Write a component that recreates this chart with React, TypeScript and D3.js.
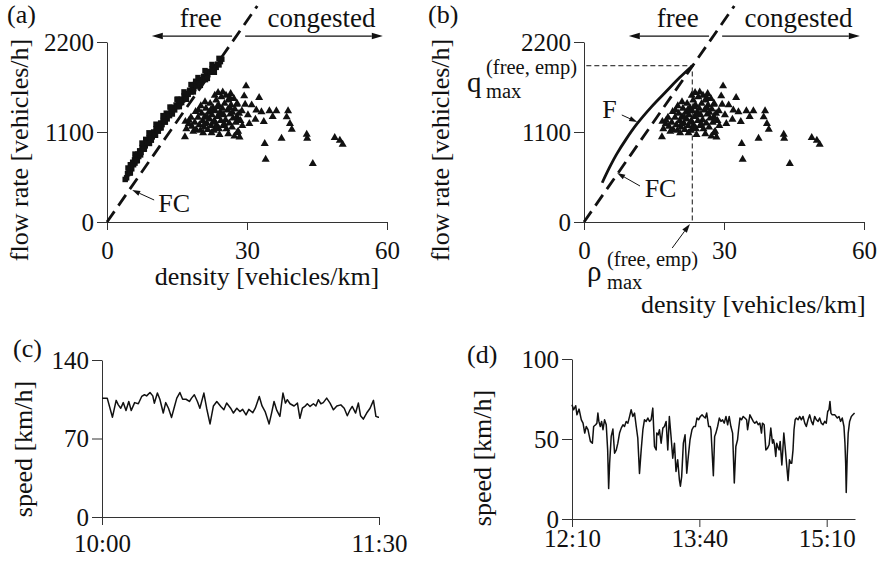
import React, { useEffect, useRef } from 'react'
import * as d3 from 'd3'

const W = 886
const H = 566
const FONT = "'Liberation Serif', 'Times New Roman', serif"
const INK = '#111'
const AXIS = '#333'

// (a) free-flow measurements: [density veh/km, flow veh/h]
const freeObs = [
  [3.9, 520], [4.2, 540], [4.4, 590], [4.7, 620], [4.9, 600], [5.0, 700], [5.1, 680], [5.3, 650],
  [5.5, 730], [5.7, 700], [5.9, 760], [6.0, 720], [6.1, 790], [6.3, 750], [6.6, 830], [6.8, 800],
  [7.0, 870], [7.2, 820], [7.3, 850], [7.5, 910], [7.8, 890], [8.0, 950], [8.2, 930], [8.3, 1010],
  [8.5, 990], [8.7, 970], [9.0, 1030], [9.1, 960], [9.2, 1010], [9.5, 1070], [9.7, 1040], [10.0, 1100],
  [10.2, 1080], [10.4, 1060], [10.5, 1140], [10.8, 1120], [11.0, 1170], [11.3, 1150], [11.5, 1210],
  [11.6, 1150], [11.8, 1190], [12.0, 1240], [12.3, 1230], [12.6, 1280], [12.7, 1330], [12.9, 1260],
  [13.1, 1320], [13.4, 1300], [13.7, 1360], [13.9, 1400], [14.0, 1350], [14.2, 1390], [14.5, 1370],
  [14.8, 1430], [15.0, 1410], [15.2, 1500], [15.3, 1470], [15.6, 1450], [15.9, 1500], [16.0, 1460],
  [16.2, 1490], [16.5, 1540], [16.8, 1520], [17.0, 1510], [17.1, 1570], [17.4, 1560], [17.7, 1610],
  [18.0, 1590], [18.3, 1640], [18.6, 1630], [18.9, 1680], [19.0, 1720], [19.2, 1660], [19.5, 1710],
  [19.8, 1700], [20.1, 1740], [20.4, 1730], [20.7, 1780], [21.0, 1770], [21.1, 1740], [21.3, 1810],
  [21.6, 1800], [21.9, 1840], [22.2, 1830], [22.5, 1870], [22.8, 1860], [23.1, 1900], [23.4, 1890],
  [23.7, 1930], [24.0, 1920], [24.3, 1960], [24.6, 1990],
  [4.5, 660], [6.0, 830], [7.5, 965], [9.0, 1090], [10.5, 1195], [12.0, 1300], [13.5, 1405],
  [15.0, 1500], [16.5, 1590], [18.0, 1680], [19.5, 1765], [21.0, 1850], [22.5, 1925], [24.0, 2000],
  [5.0, 600], [6.5, 750], [8.0, 890], [9.5, 1000], [11.0, 1110], [12.5, 1220], [14.0, 1320],
  [15.5, 1410], [17.0, 1500], [18.5, 1590], [20.0, 1670], [21.5, 1755], [23.0, 1830]
]

// (a),(b) congested measurements
const congObs = [
  [17.0, 1150], [17.5, 1210], [16.8, 1240], [18.0, 1290], [18.2, 1180], [18.5, 1120], [18.8, 1230],
  [19.1, 1140], [19.0, 1360], [19.5, 1290], [19.8, 1200], [20.0, 1130], [20.1, 1430], [20.3, 1340],
  [20.5, 1250], [20.6, 1100], [20.8, 1170], [21.0, 1300], [21.0, 1480], [21.2, 1400], [21.4, 1220],
  [21.6, 1140], [21.8, 1350], [22.0, 1270], [22.1, 1460], [22.3, 1190], [22.4, 1100], [22.5, 1320],
  [22.7, 1410], [22.9, 1130], [23.0, 1250], [23.1, 1560], [23.2, 1370], [23.4, 1500], [23.5, 1200],
  [23.7, 1300], [23.9, 1440], [24.0, 1150], [24.1, 1080], [24.2, 1350], [24.4, 1250], [24.5, 1540],
  [24.7, 1400], [24.8, 1600], [24.9, 1190], [25.0, 1320], [25.2, 1460], [25.4, 1260], [25.6, 1150],
  [25.8, 1380], [26.0, 1500], [26.0, 1090], [26.2, 1220], [26.4, 1330], [26.5, 1580], [26.6, 1440],
  [26.8, 1170], [27.0, 1280], [27.2, 1520], [27.3, 1060], [27.4, 1390], [27.6, 1230], [27.9, 1460],
  [28.1, 1120], [28.3, 1340], [28.4, 1050], [28.6, 1250], [21.5, 1290], [22.8, 1230], [23.6, 1420],
  [24.6, 1330], [25.5, 1560], [26.9, 1350], [19.6, 1380], [20.9, 1210], [22.2, 1380], [23.3, 1160],
  [25.1, 1210], [26.3, 1410], [27.8, 1300],
  [16.7, 1051], [17.6, 1255], [29.8, 1674], [29.4, 1552], [32.6, 1532], [29.6, 1450], [31.0, 1442],
  [33.1, 1357], [34.8, 1369], [36.3, 1369], [38.8, 1369], [38.5, 1295], [33.6, 1238], [31.8, 1267],
  [30.5, 1214], [39.2, 1214], [39.6, 1145], [37.4, 1035], [33.8, 970], [42.8, 1084], [42.9, 1035],
  [48.8, 1043], [49.9, 1010], [50.5, 961], [34.0, 778], [44.1, 725], [27.9, 1104], [28.1, 1267],
  [28.9, 1369], [27.8, 1450], [26.3, 1532], [23.8, 1593], [29.0, 1190], [30.2, 1320], [32.0, 1380],
  [35.5, 1300]
]

// FC: straight line through origin
const fcDensity = [0, 32.2]
const fcFlow = [0, 2640]

// F: fitted free-flow curve in (b)
const fitDensity = [3.9, 5.5, 7.0, 9.0, 11.3, 14.5, 17.7, 20.5, 23.4]
const fitFlow = [480, 670, 830, 1010, 1195, 1410, 1600, 1765, 1919]

const qMax = 1910
const rhoMax = 23.2

const densityTicks = [0, 30, 60]
const flowTicks = [0, 1100, 2200]

// (c) speed time series, minutes after 10:00
const speedC = [
  [0, 106], [1.7, 106], [3.4, 89], [4.6, 104], [5.3, 100], [6.1, 97], [6.9, 102], [7.8, 95], [8.7, 103],
  [9.5, 95], [10.6, 102], [11.8, 101], [12.9, 107.5], [13.8, 109], [14.5, 108], [15.6, 111], [16.5, 108],
  [17.0, 101.5], [18.0, 110.5], [18.8, 105], [19.9, 92.7], [20.7, 102], [21.6, 97], [22.6, 88.8],
  [23.4, 97], [24.3, 106], [25.3, 111], [26.2, 105], [27.3, 105], [28.4, 103], [29.1, 106], [30.0, 109],
  [31.0, 103], [31.8, 97], [33.1, 110.5], [34.0, 97], [35.1, 83], [36.2, 99], [37.3, 103], [38.6, 98.6],
  [39.6, 95.6], [40.5, 101.6], [41.8, 97], [42.7, 92.7], [43.8, 97], [44.8, 94], [45.7, 96], [46.8, 91],
  [47.7, 96], [49.0, 93], [49.8, 97], [51.1, 107.5], [52.0, 99], [53.0, 94], [54.3, 83], [55.1, 92.7],
  [55.9, 103], [56.8, 95], [57.8, 89.7], [58.8, 110.5], [59.6, 101.6], [60.2, 104.6], [61.1, 101],
  [62.4, 99], [63.5, 101.6], [64.3, 88], [65.1, 97], [65.9, 98.6], [66.7, 101], [67.6, 98.6], [68.7, 101],
  [69.5, 99], [70.3, 104.6], [71.1, 101], [71.9, 102], [73.0, 106], [74.1, 101.6], [75.2, 95.6],
  [76.3, 99], [77.6, 100], [78.7, 97], [79.7, 90.3], [80.6, 95.6], [81.3, 98.6], [82.4, 92.7],
  [83.3, 101.6], [84.0, 90.3], [84.9, 87.3], [86.0, 92.7], [87.1, 97], [88.2, 104], [89.0, 89.7],
  [89.8, 89], [90, 89]
]
const cTicks = [0, 90]
const cTickLabels = ['10:00', '11:30']
const cSpeedTicks = [0, 70, 140]

// (d) speed time series, minutes after 12:10
const speedD = [
  [0, 71.4], [1.2, 68.3], [2.6, 70.8], [3.5, 65.1], [5.0, 68.7], [6.6, 62], [7.8, 59.9], [9.0, 53.7],
  [10.1, 57.8], [11.3, 55.8], [13.0, 48.5], [14.4, 47.4], [15.3, 57.8], [16.7, 58.9], [17.6, 59.9],
  [18.3, 66.2], [19.0, 61], [20.0, 57.8], [20.9, 61], [21.9, 55.8], [23.0, 62], [24.2, 58.9], [25.2, 43.2],
  [25.9, 19], [26.6, 34.9], [27.7, 51.6], [28.9, 56.2], [30.1, 41.1], [31.3, 43.2], [32.4, 47.4],
  [33.6, 53.7], [34.8, 56.8], [36.0, 58.9], [37.1, 57.8], [38.3, 61], [39.5, 59.9], [40.7, 64.1],
  [41.8, 68.3], [43.0, 64.1], [44.2, 66.2], [45.4, 57.8], [46.5, 50.5], [47.7, 28.5], [48.9, 43.2],
  [50.1, 55.8], [51.2, 62], [52.4, 61], [53.6, 63.1], [54.8, 61], [55.9, 62], [57.1, 69.3], [58.3, 45.3],
  [59.5, 43.2], [59.9, 53.7], [60.9, 52.6], [61.8, 55.8], [63.0, 47.4], [64.2, 56.8], [65.3, 57.8],
  [66.5, 61], [67.7, 43.2], [68.8, 64.1], [70.0, 51.6], [71.2, 38], [72.4, 47.4], [73.5, 29.7],
  [74.7, 37], [75.9, 24.5], [76.6, 20.5], [77.5, 26.5], [78.7, 47.4], [79.9, 52.6], [81.1, 28.6],
  [82.2, 39.1], [83.4, 49.5], [84.8, 55.8], [86.0, 57.8], [87.2, 57.8], [88.3, 63.1], [89.5, 62],
  [90.7, 64.1], [91.9, 65.1], [93.0, 64.1], [94.2, 63.1], [95.2, 66.2], [96.6, 57.8], [97.7, 57.8],
  [98.2, 55.8], [99.9, 27], [100.8, 51.6], [101.7, 53.7], [102.9, 57.8], [104.1, 63.1], [105.3, 61],
  [106.4, 62], [107.6, 59.9], [108.8, 64.1], [110.0, 58.9], [111.1, 64.1], [112.3, 57.8], [113.5, 53.7],
  [114.7, 22.5], [115.8, 45.3], [117.0, 49.5], [117.7, 55.8], [118.7, 63.1], [119.8, 62], [121.0, 64.1],
  [122.2, 63.1], [123.4, 62], [124.1, 55.8], [124.8, 59.9], [125.7, 65.1], [126.9, 63.1], [128.1, 61],
  [129.2, 59.9], [130.4, 61], [131.6, 58.9], [132.8, 59.9], [133.9, 53.7], [134.6, 59.9], [135.8, 58.9],
  [137.0, 43.2], [138.2, 44.3], [139.3, 46.4], [140.5, 56.8], [141.7, 47.4], [142.4, 49.5], [143.1, 46.4],
  [144.0, 39.1], [144.7, 47.4], [145.4, 45.3], [146.4, 43.2], [147.1, 48.5], [148.3, 33.8], [149.0, 43.2],
  [149.7, 53.7], [150.6, 45.3], [151.8, 32.8], [152.7, 24], [153.7, 37], [154.6, 34.9], [155.3, 34.9],
  [156.2, 43.2], [156.9, 55.8], [157.7, 62], [158.6, 63.1], [159.8, 62], [160.9, 64.1], [162.1, 62],
  [163.3, 64.1], [164.5, 59.9], [165.6, 57.8], [166.8, 62], [168.0, 65.1], [169.2, 61], [170.3, 58.9],
  [171.5, 64.1], [172.7, 62], [173.9, 61], [175.0, 63.1], [176.2, 59.9], [177.4, 58.9], [178.6, 61],
  [179.7, 59.9], [180.7, 67.2], [181.6, 68.3], [182.3, 73.5], [183.0, 66.2], [183.9, 65.1], [185.8, 65.1],
  [187.5, 63.1], [188.7, 64.1], [189.8, 61], [191.0, 63.1], [192.2, 57.8], [192.9, 47.4], [193.4, 34.9],
  [193.8, 16.5], [194.5, 39.1], [195.2, 53.7], [196.2, 61], [197.4, 64.1], [198.5, 65.1], [199.7, 66.2]
]
const dTicks = [0, 90, 180]
const dTickLabels = ['12:10', '13:40', '15:10']
const dSpeedTicks = [0, 50, 100]

type Sel = d3.Selection<SVGGElement, unknown, null, undefined>

function text (g: Sel, x: number, y: number, s: string, size: number, anchor = 'start') {
  return g.append('text')
    .attr('x', x).attr('y', y)
    .attr('font-size', size)
    .attr('text-anchor', anchor)
    .attr('fill', INK)
    .text(s)
}

function arrow (g: Sel, x1: number, y1: number, x2: number, y2: number, w: number, len: number, half: number) {
  const a = Math.atan2(y2 - y1, x2 - x1)
  const bx = x2 - len * Math.cos(a)
  const by = y2 - len * Math.sin(a)
  g.append('line')
    .attr('x1', x1).attr('y1', y1).attr('x2', bx).attr('y2', by)
    .attr('stroke', INK).attr('stroke-width', w)
  const px = -Math.sin(a) * half
  const py = Math.cos(a) * half
  g.append('path')
    .attr('d', `M${x2},${y2}L${bx + px},${by + py}L${bx - px},${by - py}Z`)
    .attr('fill', INK)
}

function axes (g: Sel, x: any, y: any, xTicks: number[], xLabels: string[] | null, yTicks: number[], xBase: number) {
  const ya = g.append('g')
    .attr('transform', `translate(${x.range()[0]},0)`)
    .call(d3.axisLeft(y).tickValues(yTicks).tickSize(10).tickSizeOuter(0).tickPadding(3)
      .tickFormat((d: any) => String(d)))
  const xa = g.append('g')
    .attr('transform', `translate(0,${y.range()[0]})`)
    .call(d3.axisBottom(x).tickValues(xTicks).tickSize(8).tickSizeOuter(0)
      .tickFormat((d: any, i: number) => xLabels ? xLabels[i] : String(d)))
  for (const a of [ya, xa]) {
    a.attr('font-size', 25).attr('font-family', FONT).attr('color', AXIS)
    a.selectAll('text').attr('fill', INK)
  }
  xa.selectAll('text').attr('dy', null).attr('y', xBase)
}

function flowPanel (svg: Sel, x0: number, withFit: boolean) {
  const g = svg.append('g')
  const x = d3.scaleLinear().domain([0, 60]).range([x0, x0 + 280])
  const y = d3.scaleLinear().domain([0, 2200]).range([222, 42])

  axes(g, x, y, densityTicks, null, flowTicks, 37)

  const sq = d3.symbol(d3.symbolSquare, 30)
  const tri = d3.symbol(d3.symbolTriangle, 28)

  if (!withFit) {
    g.append('g').selectAll('path')
      .data(freeObs)
      .enter().append('path')
      .attr('d', sq)
      .attr('transform', d => `translate(${x(d[0])},${y(d[1])})`)
      .attr('fill', INK)
  }

  g.append('g').selectAll('path')
    .data(congObs)
    .enter().append('path')
    .attr('d', tri)
    .attr('transform', d => `translate(${x(d[0])},${y(d[1]) + 1})`)
    .attr('fill', INK)

  // FC dashed line
  g.append('path')
    .attr('d', d3.line<number>().x(d => x(d)).y((d, i) => y(fcFlow[i]))(fcDensity))
    .attr('fill', 'none').attr('stroke', INK)
    .attr('stroke-width', 2.8).attr('stroke-dasharray', '13,7')

  // free / congested arrows
  const ay = y(2273)
  arrow(g, x(26.8), ay, x(9.6), ay, 1.3, 11, 3.2)
  arrow(g, x(29.6), ay, x(59.1), ay, 1.3, 11, 3.2)
  text(g, x(20.1), 27, 'free', 27, 'middle')
  text(g, x(34.4), 27, 'congested', 27)

  if (!withFit) {
    text(g, x(11.0), 212, 'FC', 26)
    arrow(g, x(10.1), y(269), x(5.4), y(391), 1, 8, 2.6)
  } else {
    // empirical maxima guide lines
    g.append('path')
      .attr('d', `M${x(0.5)},${y(qMax)}H${x(rhoMax)}`)
      .attr('stroke', INK).attr('stroke-width', 1).attr('stroke-dasharray', '5,3')
    g.append('path')
      .attr('d', `M${x(rhoMax)},${y(1840)}V${y(0)}`)
      .attr('stroke', INK).attr('stroke-width', 1).attr('stroke-dasharray', '5,3')

    g.append('path')
      .attr('d', d3.line<number>().x(d => x(d)).y((d, i) => y(fitFlow[i])).curve(d3.curveCatmullRom)(fitDensity))
      .attr('fill', 'none').attr('stroke', INK).attr('stroke-width', 2.8)
      .attr('stroke-linejoin', 'round')

    text(g, x(3.9), y(1271), 'F', 26)
    arrow(g, x(8.1), y(1308), x(11.4), y(1222), 1, 8, 2.6)
    text(g, x(13.0), y(306), 'FC', 26)
    arrow(g, x(12.0), y(440), x(7.1), y(599), 1, 8, 2.6)

    text(g, 467, 92, 'q', 29)
    text(g, 486, 74, '(free, emp)', 20.5)
    text(g, 486, 98, 'max', 20.5)
    text(g, 587, 281, 'ρ', 29)
    text(g, 607, 266, '(free, emp)', 20.5)
    text(g, 607, 289, 'max', 20.5)
    arrow(g, x(18.9), y(-318), x(22.7), y(-24), 1, 9, 2.8)
  }
}

function speedPanel (svg: Sel, data: number[][], xDomain: number[], xRange: number[], yMax: number, yRange: number[], xTicks: number[], xLabels: string[], yTicks: number[], xBase: number) {
  const g = svg.append('g')
  const x = d3.scaleLinear().domain(xDomain).range(xRange)
  const y = d3.scaleLinear().domain([0, yMax]).range(yRange)
  axes(g, x, y, xTicks, xLabels, yTicks, xBase)
  g.append('path')
    .attr('d', d3.line<number[]>().x(d => x(d[0])).y(d => y(d[1]))(data))
    .attr('fill', 'none').attr('stroke', INK).attr('stroke-width', 1.5)
    .attr('stroke-linejoin', 'round')
}

function App () {
  const ref = useRef<SVGSVGElement>(null)

  useEffect(() => {
    const root = d3.select(ref.current)
    root.selectAll('*').remove()
    const svg = root.append('g').attr('font-family', FONT) as unknown as Sel

    flowPanel(svg, 107, false)
    flowPanel(svg, 584, true)

    speedPanel(svg, speedC, [0, 90], [102, 379], 140, [517, 360], cTicks, cTickLabels, cSpeedTicks, 35)
    speedPanel(svg, speedD, [0, 200], [572, 855], 100, [519, 359], dTicks, dTickLabels, dSpeedTicks, 28)

    // panel letters
    text(svg, 7, 23, '(a)', 26)
    text(svg, 428, 23, '(b)', 26)
    text(svg, 13, 357, '(c)', 26)
    text(svg, 467, 363, '(d)', 26)

    // axis titles
    text(svg, 267, 285, 'density [vehicles/km]', 26, 'middle')
    text(svg, 641, 313, 'density [vehicles/km]', 26)
    const yt = (cx: number, cy: number, s: string) =>
      text(svg, 0, 0, s, 26, 'middle').attr('transform', `translate(${cx},${cy}) rotate(-90)`)
    yt(28, 150, 'flow rate [vehicles/h]')
    yt(449, 150, 'flow rate [vehicles/h]')
    yt(32, 449, 'speed [km/h]')
    yt(491, 458, 'speed [km/h]')
  }, [])

  return (
    <svg
      ref={ref}
      width={W}
      height={H}
      viewBox={`0 0 ${W} ${H}`}
      style={{ position: 'absolute', left: 0, top: 0, background: '#fff', fontFamily: FONT }}
    />
  )
}

export default App
